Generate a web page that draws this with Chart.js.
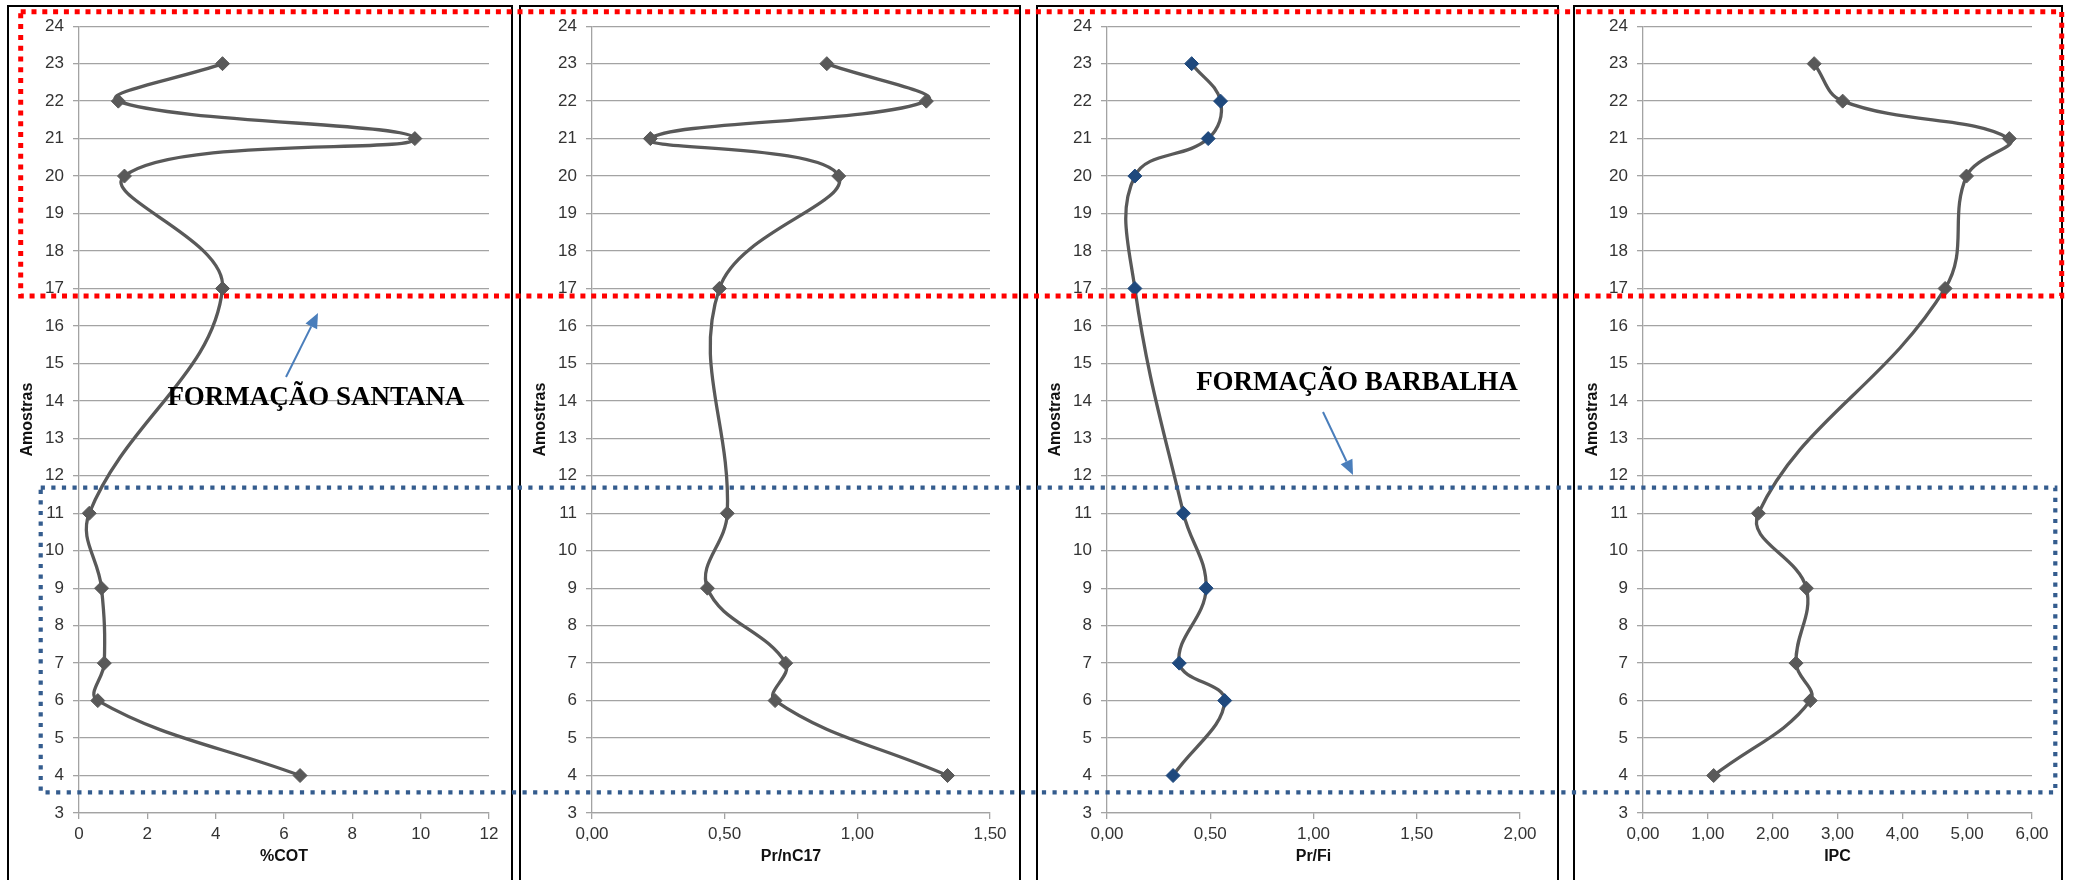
<!DOCTYPE html>
<html>
<head>
<meta charset="utf-8">
<script src="https://cdn.jsdelivr.net/npm/chart.js@4.4.1/dist/chart.umd.min.js"></script>
<style>
  body { margin: 0; background: #fff; overflow: hidden; }
  #page { position: relative; width: 2089px; height: 880px; overflow: hidden; }
  .panel { position: absolute; top: 5px; height: 890px; border: 2px solid #000; box-sizing: border-box; }
  .panel canvas { position: absolute; left: 0; top: 0; }
  #overlay { position: absolute; left: 0; top: 0; pointer-events: none; }
  .note { position: absolute; font-family: 'Liberation Serif', 'Times New Roman', serif; font-weight: bold;
          font-size: 27px; line-height: 27px; white-space: nowrap; transform: translateX(-50%); color: #000; }
</style>
</head>
<body>
<div id="page">
  <div class="panel" style="left:7px;width:506px"><canvas id="c1"></canvas></div>
  <div class="panel" style="left:519px;width:502px"><canvas id="c2"></canvas></div>
  <div class="panel" style="left:1036px;width:523px"><canvas id="c3"></canvas></div>
  <div class="panel" style="left:1573px;width:490px"><canvas id="c4"></canvas></div>
  <canvas id="overlay" width="2089" height="880"></canvas>
  <div class="note" style="left:316px;top:383px">FORMAÇÃO SANTANA</div>
  <div class="note" style="left:1357px;top:368px">FORMAÇÃO BARBALHA</div>
</div>
<script>
// amostras (eixo vertical) e valores de cada perfil
const amostras = [4, 6, 7, 9, 11, 17, 20, 21, 22, 23];
const cot = [6.47, 0.55, 0.74, 0.66, 0.30, 4.20, 1.33, 9.83, 1.15, 4.20];
const prNC17 = [1.34, 0.69, 0.73, 0.435, 0.51, 0.48, 0.93, 0.22, 1.26, 0.885];
const prFi = [0.32, 0.57, 0.35, 0.48, 0.37, 0.135, 0.135, 0.49, 0.55, 0.41];
const ipc = [1.09, 2.58, 2.36, 2.52, 1.78, 4.66, 4.99, 5.65, 3.08, 2.64];

const yMin = 3, yMax = 24;
const cotTicks = { max: 12, step: 2 };
const prNC17Ticks = { max: 1.5, step: 0.5 };
const prFiTicks = { max: 2, step: 0.5 };
const ipcTicks = { max: 6, step: 1 };

const FONT = "'Liberation Sans', Arial, sans-serif";
const GRID = '#a3a3a3';
const CANVAS_H = 873;

function comma(v) {
    return v.toFixed(2).replace('.', ',');
}

function makeChart(id, values, axis, xTitle, markerColor, fmt, box) {
    const canvas = document.getElementById(id);
    canvas.width = box.w;
    canvas.height = CANVAS_H;
    const points = amostras.map((a, i) => ({ x: values[i], y: a }));

    return new Chart(canvas, {
        type: 'scatter',
        data: {
            datasets: [{
                data: points,
                showLine: true,
                borderColor: '#595959',
                borderWidth: 3.3,
                tension: 0.4,
                pointStyle: 'rectRot',
                pointRadius: 7,
                pointBackgroundColor: markerColor,
                pointBorderColor: markerColor,
                pointBorderWidth: 1
            }]
        },
        options: {
            responsive: false,
            animation: false,
            layout: { padding: { top: 14, right: box.padR, left: 0, bottom: 0 } },
            plugins: { legend: { display: false }, tooltip: { enabled: false } },
            scales: {
                x: {
                    type: 'linear',
                    min: 0,
                    max: axis.max,
                    ticks: {
                        stepSize: axis.step,
                        color: '#333',
                        font: { family: FONT, size: 17 },
                        padding: 5,
                        callback: v => fmt(v)
                    },
                    grid: { drawOnChartArea: false, drawTicks: true, tickLength: 6, color: GRID, lineWidth: 1.3 },
                    border: { color: GRID, width: 1.3 },
                    title: {
                        display: true,
                        text: xTitle,
                        color: '#111',
                        font: { family: FONT, size: 16, weight: 'bold' },
                        padding: { top: 2, bottom: 13.5 }
                    },
                    afterFit: s => { s.height = 67; }
                },
                y: {
                    type: 'linear',
                    min: yMin,
                    max: yMax,
                    ticks: {
                        stepSize: 1,
                        autoSkip: false,
                        color: '#333',
                        font: { family: FONT, size: 17 },
                        padding: 9
                    },
                    grid: { drawTicks: true, tickLength: 6, color: GRID, lineWidth: 1.3 },
                    border: { color: GRID, width: 1.3 },
                    title: {
                        display: true,
                        text: 'Amostras',
                        color: '#111',
                        font: { family: FONT, size: 16, weight: 'bold' },
                        padding: { top: box.titlePad, bottom: 0 }
                    },
                    afterFit: s => { s.width = box.yW; }
                }
            }
        }
    });
}

makeChart('c1', cot, cotTicks, '%COT', '#595959', v => String(v),
    { w: 502, yW: 70, padR: 22, titlePad: 8.5 });
makeChart('c2', prNC17, prNC17Ticks, 'Pr/nC17', '#595959', comma,
    { w: 498, yW: 71, padR: 29, titlePad: 9.5 });
makeChart('c3', prFi, prFiTicks, 'Pr/Fi', '#1f497d', comma,
    { w: 519, yW: 69, padR: 37, titlePad: 8 });
makeChart('c4', ipc, ipcTicks, 'IPC', '#595959', comma,
    { w: 486, yW: 68, padR: 29, titlePad: 8 });

// caixas pontilhadas e setas das formações
const ov = document.getElementById('overlay');
const g = ov.getContext('2d');

function dottedRect(x1, y1, x2, y2, color, w, dash) {
    g.save();
    g.strokeStyle = color;
    g.lineWidth = w;
    g.setLineDash(dash);
    g.lineCap = 'butt';
    g.strokeRect(x1, y1, x2 - x1, y2 - y1);
    g.restore();
}

function arrow(x1, y1, x2, y2) {
    const ang = Math.atan2(y2 - y1, x2 - x1);
    const len = 15, half = 6.5;
    const bx = x2 - len * Math.cos(ang), by = y2 - len * Math.sin(ang);
    g.save();
    g.strokeStyle = '#4a7ebb';
    g.fillStyle = '#4a7ebb';
    g.lineWidth = 2;
    g.beginPath();
    g.moveTo(x1, y1);
    g.lineTo(bx, by);
    g.stroke();
    g.beginPath();
    g.moveTo(x2, y2);
    g.lineTo(bx + half * Math.sin(ang), by - half * Math.cos(ang));
    g.lineTo(bx - half * Math.sin(ang), by + half * Math.cos(ang));
    g.closePath();
    g.fill();
    g.restore();
}

dottedRect(20.7, 11.7, 2061.7, 296, '#ff0000', 5, [5, 5.8]);
dottedRect(40.7, 487.7, 2055.3, 792.3, '#345c8e', 4.2, [4.2, 6.4]);
arrow(286, 377, 318, 313);
arrow(1323, 412, 1353, 475);
</script>
</body>
</html>
